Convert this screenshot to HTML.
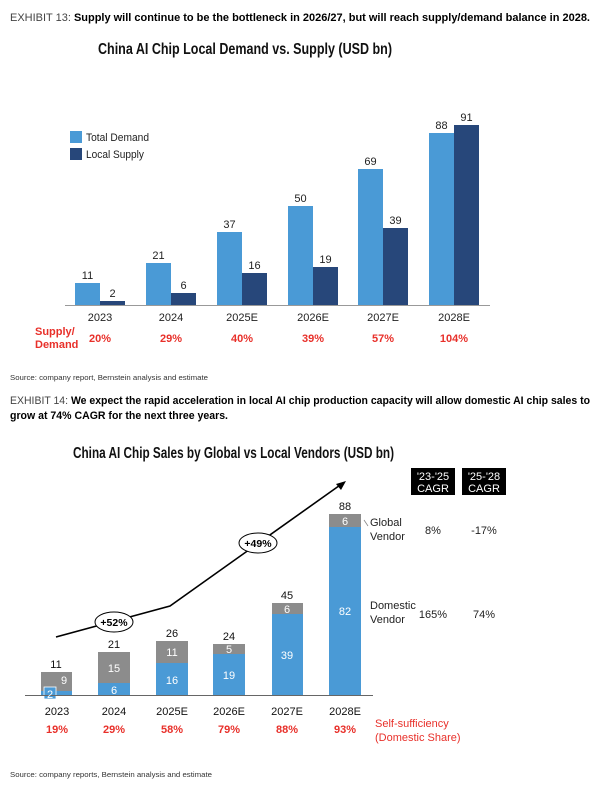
<!DOCTYPE html>
<html><head><meta charset="utf-8"><style>
html,body{margin:0;padding:0;background:#fff;width:600px;height:793px;overflow:hidden}
svg{display:block;font-family:"Liberation Sans",Arial,sans-serif}
</style></head><body>
<svg width="600" height="793" viewBox="0 0 600 793">
<!-- Exhibit 13 -->
<text x="10" y="21" font-size="11" fill="#444" textLength="580" lengthAdjust="spacingAndGlyphs">EXHIBIT 13: <tspan font-weight="bold" fill="#000">Supply will continue to be the bottleneck in 2026/27, but will reach supply/demand balance in 2028.</tspan></text>
<text x="98" y="54" font-size="15.5" font-weight="bold" fill="#111" textLength="294" lengthAdjust="spacingAndGlyphs">China AI Chip Local Demand vs. Supply (USD bn)</text>
<rect x="70" y="131" width="12" height="12" fill="#4a9ad6"/>
<text x="86" y="141" font-size="11" fill="#222" textLength="63" lengthAdjust="spacingAndGlyphs">Total Demand</text>
<rect x="70" y="148" width="12" height="12" fill="#27477a"/>
<text x="86" y="158" font-size="11" fill="#222" textLength="58" lengthAdjust="spacingAndGlyphs">Local Supply</text>
<g font-size="11" fill="#222" text-anchor="middle">
<rect x="75" y="283" width="25" height="22" fill="#4a9ad6"/><rect x="100" y="301" width="25" height="4" fill="#27477a"/>
<text x="87.5" y="279">11</text><text x="112.5" y="297">2</text>
<rect x="146" y="263" width="25" height="42" fill="#4a9ad6"/><rect x="171" y="293" width="25" height="12" fill="#27477a"/>
<text x="158.5" y="259">21</text><text x="183.5" y="289">6</text>
<rect x="217" y="232" width="25" height="73" fill="#4a9ad6"/><rect x="242" y="273" width="25" height="32" fill="#27477a"/>
<text x="229.5" y="228">37</text><text x="254.5" y="269">16</text>
<rect x="288" y="206" width="25" height="99" fill="#4a9ad6"/><rect x="313" y="267" width="25" height="38" fill="#27477a"/>
<text x="300.5" y="202">50</text><text x="325.5" y="263">19</text>
<rect x="358" y="169" width="25" height="136" fill="#4a9ad6"/><rect x="383" y="228" width="25" height="77" fill="#27477a"/>
<text x="370.5" y="165">69</text><text x="395.5" y="224">39</text>
<rect x="429" y="133" width="25" height="172" fill="#4a9ad6"/><rect x="454" y="125" width="25" height="180" fill="#27477a"/>
<text x="441.5" y="129">88</text><text x="466.5" y="121">91</text>
</g>
<line x1="65" y1="305.5" x2="490" y2="305.5" stroke="#999" stroke-width="1"/>
<g font-size="11" fill="#222" text-anchor="middle">
<text x="100" y="321">2023</text><text x="171" y="321">2024</text><text x="242" y="321">2025E</text><text x="313" y="321">2026E</text><text x="383" y="321">2027E</text><text x="454" y="321">2028E</text>
</g>
<g font-size="11" font-weight="bold" fill="#e8302a">
<text x="35" y="335">Supply/</text><text x="35" y="348">Demand</text>
<g text-anchor="middle"><text x="100" y="342">20%</text><text x="171" y="342">29%</text><text x="242" y="342">40%</text><text x="313" y="342">39%</text><text x="383" y="342">57%</text><text x="454" y="342">104%</text></g>
</g>
<text x="10" y="380" font-size="7.5" fill="#333" textLength="198" lengthAdjust="spacingAndGlyphs">Source: company report, Bernstein analysis and estimate</text>

<!-- Exhibit 14 -->
<text x="10" y="404" font-size="11" fill="#444" textLength="580" lengthAdjust="spacingAndGlyphs">EXHIBIT 14: <tspan font-weight="bold" fill="#000">We expect the rapid acceleration in local AI chip production capacity will allow domestic AI chip sales to</tspan></text>
<text x="10" y="419" font-size="11" font-weight="bold" fill="#000" textLength="218" lengthAdjust="spacingAndGlyphs">grow at 74% CAGR for the next three years.</text>
<text x="73" y="458" font-size="15.5" font-weight="bold" fill="#111" textLength="321" lengthAdjust="spacingAndGlyphs">China AI Chip Sales by Global vs Local Vendors (USD bn)</text>

<rect x="411" y="468" width="44" height="27" fill="#000"/>
<rect x="462" y="468" width="44" height="27" fill="#000"/>
<g font-size="11" fill="#fff" text-anchor="middle">
<text x="433" y="480">'23-'25</text><text x="433" y="492">CAGR</text>
<text x="484" y="480">'25-'28</text><text x="484" y="492">CAGR</text>
</g>

<polyline points="56,637 170,606 343,483" fill="none" stroke="#000" stroke-width="1.6"/>
<polygon points="346,481 336,484 341,490" fill="#000"/>
<ellipse cx="114" cy="622" rx="19" ry="10" fill="#fff" stroke="#000" stroke-width="1"/>
<text x="114" y="626" font-size="10.5" font-weight="bold" text-anchor="middle">+52%</text>
<ellipse cx="258" cy="543" rx="19" ry="10" fill="#fff" stroke="#000" stroke-width="1"/>
<text x="258" y="547" font-size="10.5" font-weight="bold" text-anchor="middle">+49%</text>

<g>
<rect x="41" y="672" width="31" height="23" fill="#8c8c8c"/><rect x="41" y="691" width="31" height="4" fill="#4a9ad6"/>
<rect x="98" y="652" width="32" height="43" fill="#8c8c8c"/><rect x="98" y="683" width="32" height="12" fill="#4a9ad6"/>
<rect x="156" y="641" width="32" height="54" fill="#8c8c8c"/><rect x="156" y="663" width="32" height="32" fill="#4a9ad6"/>
<rect x="213" y="644" width="32" height="51" fill="#8c8c8c"/><rect x="213" y="654" width="32" height="41" fill="#4a9ad6"/>
<rect x="272" y="603" width="31" height="92" fill="#8c8c8c"/><rect x="272" y="614" width="31" height="81" fill="#4a9ad6"/>
<rect x="329" y="514" width="32" height="181" fill="#8c8c8c"/><rect x="329" y="527" width="32" height="168" fill="#4a9ad6"/>
<rect x="44" y="687" width="12" height="12" fill="#4a9ad6" stroke="#fff" stroke-width="0.8"/>
</g>
<line x1="25" y1="695.5" x2="373" y2="695.5" stroke="#666" stroke-width="1"/>
<g font-size="11" fill="#fff" text-anchor="middle">
<text x="50" y="698">2</text><text x="64" y="684">9</text>
<text x="114" y="694">6</text><text x="114" y="672">15</text>
<text x="172" y="684">16</text><text x="172" y="656">11</text>
<text x="229" y="679">19</text><text x="229" y="653">5</text>
<text x="287" y="659">39</text><text x="287" y="613">6</text>
<text x="345" y="615">82</text><text x="345" y="525">6</text>
</g>
<g font-size="11" fill="#111" text-anchor="middle">
<text x="56" y="668">11</text><text x="114" y="648">21</text><text x="172" y="637">26</text><text x="229" y="640">24</text><text x="287" y="599">45</text><text x="345" y="510">88</text>
<text x="57" y="715">2023</text><text x="114" y="715">2024</text><text x="172" y="715">2025E</text><text x="229" y="715">2026E</text><text x="287" y="715">2027E</text><text x="345" y="715">2028E</text>
</g>
<g font-size="11" font-weight="bold" fill="#e8302a" text-anchor="middle">
<text x="57" y="733">19%</text><text x="114" y="733">29%</text><text x="172" y="733">58%</text><text x="229" y="733">79%</text><text x="287" y="733">88%</text><text x="345" y="733">93%</text>
</g>
<text x="375" y="727" font-size="11" fill="#e8302a">Self-sufficiency</text>
<text x="375" y="741" font-size="11" fill="#e8302a">(Domestic Share)</text>
<line x1="364" y1="520" x2="368" y2="526" stroke="#888" stroke-width="0.8"/>
<g font-size="11" fill="#222">
<text x="370" y="526">Global</text><text x="370" y="540">Vendor</text>
<text x="370" y="609">Domestic</text><text x="370" y="623">Vendor</text>
</g>
<g font-size="11" fill="#222" text-anchor="middle">
<text x="433" y="534">8%</text><text x="484" y="534">-17%</text>
<text x="433" y="618">165%</text><text x="484" y="618">74%</text>
</g>
<text x="10" y="777" font-size="7.5" fill="#333" textLength="202" lengthAdjust="spacingAndGlyphs">Source: company reports, Bernstein analysis and estimate</text>
</svg>
</body></html>
